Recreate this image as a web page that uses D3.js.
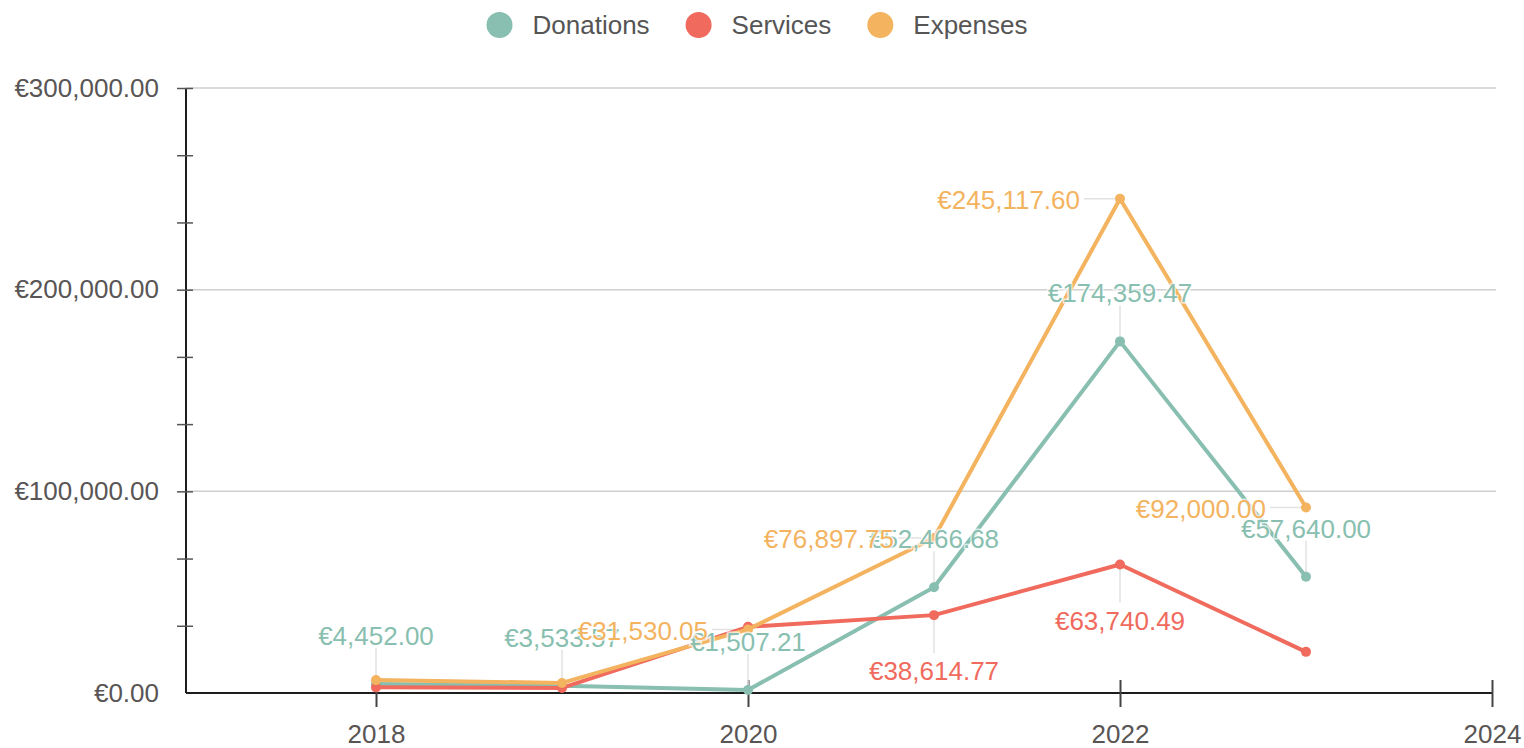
<!DOCTYPE html>
<html>
<head>
<meta charset="utf-8">
<script src="https://cdn.jsdelivr.net/npm/d3@7"></script>
<style>
  body { margin: 0; background: #fff; }
  svg text { font-family: "Liberation Sans", Arial, sans-serif; }
</style>
</head>
<body>
<div id="chart"></div>
<script>
document.addEventListener("DOMContentLoaded", function(){

  // data
  var years = [2018, 2019, 2020, 2021, 2022, 2023];
  var donations = [4452.00, 3533.57, 1507.21, 52466.68, 174359.47, 57640.00];
  var services = [2800, 2500, 32800, 38614.77, 63740.49, 20400];
  var expenses = [6400, 5000, 31530.05, 76897.75, 245117.60, 92000.00];
  var seriesNames = ["Donations", "Services", "Expenses"];
  var xTicks = [2018, 2020, 2022, 2024];
  var yLabelTicks = [0, 100000, 200000, 300000];

  // where each value label sits (null = hidden, like the original)
  var labelPlace = {
    Donations: ["above", "above", "above", "above", "above", "above"],
    Services: [null, null, null, "below", "below", null],
    Expenses: [null, null, "left", "left", "left", "left"]
  };

  var color = d3.scaleOrdinal()
    .domain(seriesNames)
    .range(["#88bfb0", "#f06a5d", "#f3b35f"]);

  var width = 1524,
      height = 748;

  var x = d3.scaleLinear().domain([2017, 2024]).range([190, 1492]);
  var y = d3.scaleLinear().domain([0, 300000]).range([693, 88]);
  var fmt = d3.format(",.2f");
  var euro = function(v) { return "€" + fmt(v); };

  var series = [
    {name: "Donations", values: donations},
    {name: "Services", values: services},
    {name: "Expenses", values: expenses}
  ].map(function(s) {
    return {name: s.name, points: years.map(function(yr, i) {
      return {year: yr, value: s.values[i], place: labelPlace[s.name][i]};
    })};
  });

  var svg = d3.select("#chart")
    .append("svg")
    .attr("width", width)
    .attr("height", height);

  // gridlines
  svg.append("g")
    .selectAll("line")
    .data(yLabelTicks.filter(function(d) { return d > 0; }))
    .enter().append("line")
    .attr("x1", 186).attr("x2", 1496)
    .attr("y1", function(d) { return y(d); })
    .attr("y2", function(d) { return y(d); })
    .attr("stroke", "#cfcfcf")
    .attr("stroke-width", 1.5);

  // y axis
  var yAxis = d3.axisLeft(y)
    .tickValues(d3.range(0, 300001, 100000 / 3))
    .tickSize(8)
    .tickPadding(19)
    .tickFormat(function(d) {
      var r = Math.round(d);
      return yLabelTicks.indexOf(r) >= 0 ? euro(r) : "";
    });

  var gy = svg.append("g")
    .attr("transform", "translate(186,0)")
    .call(yAxis);
  gy.select(".domain").attr("stroke", "#1d1d1d").attr("stroke-width", 2)
    .attr("d", "M0," + y(300000) + "V" + y(0));
  gy.selectAll(".tick line").attr("x1", -9).attr("x2", 7)
    .attr("stroke", "#555").attr("stroke-width", 1.5)
    .style("display", function(d) { return d === 0 ? "none" : null; });
  gy.selectAll(".tick text")
    .attr("font-size", 26)
    .attr("fill", "#595555")
    .attr("font-family", "Liberation Sans, Arial, sans-serif");

  // x axis
  var xAxis = d3.axisBottom(x)
    .tickValues(xTicks)
    .tickSize(14)
    .tickPadding(18)
    .tickFormat(d3.format("d"));

  var gx = svg.append("g")
    .attr("transform", "translate(0," + y(0) + ")")
    .call(xAxis);
  gx.select(".domain").attr("stroke", "#1d1d1d").attr("stroke-width", 2)
    .attr("d", "M186,0H" + x(2024));
  gx.selectAll(".tick line").attr("y1", -13).attr("y2", 14)
    .attr("stroke", "#444").attr("stroke-width", 2);
  gx.selectAll(".tick text")
    .attr("font-size", 26)
    .attr("fill", "#595555")
    .attr("font-family", "Liberation Sans, Arial, sans-serif");

  var line = d3.line()
    .x(function(d) { return x(d.year); })
    .y(function(d) { return y(d.value); });

  // connector lines from point to label
  var connectors = svg.append("g");
  series.forEach(function(s) {
    connectors.selectAll(null)
      .data(s.points.filter(function(p) { return p.place; }))
      .enter().append("line")
      .attr("x1", function(d) { return x(d.year); })
      .attr("y1", function(d) { return y(d.value); })
      .attr("x2", function(d) { return d.place === "left" ? x(d.year) - 36 : x(d.year); })
      .attr("y2", function(d) {
        if (d.place === "above") return y(d.value) - 36;
        if (d.place === "below") return y(d.value) + 38;
        return y(d.value);
      })
      .attr("stroke", "#e2e2e2")
      .attr("stroke-width", 1.5);
  });

  // lines and points
  var lines = svg.append("g");
  series.forEach(function(s) {
    lines.append("path")
      .datum(s.points)
      .attr("d", line)
      .attr("fill", "none")
      .attr("stroke", color(s.name))
      .attr("stroke-width", 4)
      .attr("stroke-linejoin", "round");

    lines.selectAll(null)
      .data(s.points)
      .enter().append("circle")
      .attr("cx", function(d) { return x(d.year); })
      .attr("cy", function(d) { return y(d.value); })
      .attr("r", 5)
      .attr("fill", color(s.name));
  });

  // value labels
  var labels = svg.append("g");
  series.forEach(function(s) {
    labels.selectAll(null)
      .data(s.points.filter(function(p) { return p.place; }))
      .enter().append("text")
      .attr("x", function(d) { return d.place === "left" ? x(d.year) - 40 : x(d.year); })
      .attr("y", function(d) {
        if (d.place === "above") return y(d.value) - 48;
        if (d.place === "below") return y(d.value) + 56;
        return y(d.value) + 1;
      })
      .attr("dy", "0.35em")
      .attr("text-anchor", function(d) { return d.place === "left" ? "end" : "middle"; })
      .attr("font-size", 26)
      .attr("fill", color(s.name))
      .attr("stroke", "#fff")
      .attr("stroke-width", 3)
      .attr("stroke-opacity", 0.7)
      .attr("paint-order", "stroke")
      .text(function(d) { return euro(d.value); });
  });

  // legend
  var legend = svg.append("g").attr("transform", "translate(0,25)");
  var items = legend.selectAll("g")
    .data(seriesNames)
    .enter().append("g");
  items.append("circle")
    .attr("r", 13)
    .attr("fill", function(d) { return color(d); });
  items.append("text")
    .attr("x", 33)
    .attr("dy", "0.35em")
    .attr("font-size", 26)
    .attr("fill", "#555")
    .text(function(d) { return d; });

  var pos = 0, offsets = [];
  items.each(function() {
    offsets.push(pos);
    pos += 33 + d3.select(this).select("text").node().getComputedTextLength() + 36 + 13;
  });
  var total = pos - 36 - 13 + 13;
  var start = 757 - total / 2 + 13;
  items.attr("transform", function(d, i) { return "translate(" + (start + offsets[i]) + ",0)"; });

});
</script>
</body>
</html>
